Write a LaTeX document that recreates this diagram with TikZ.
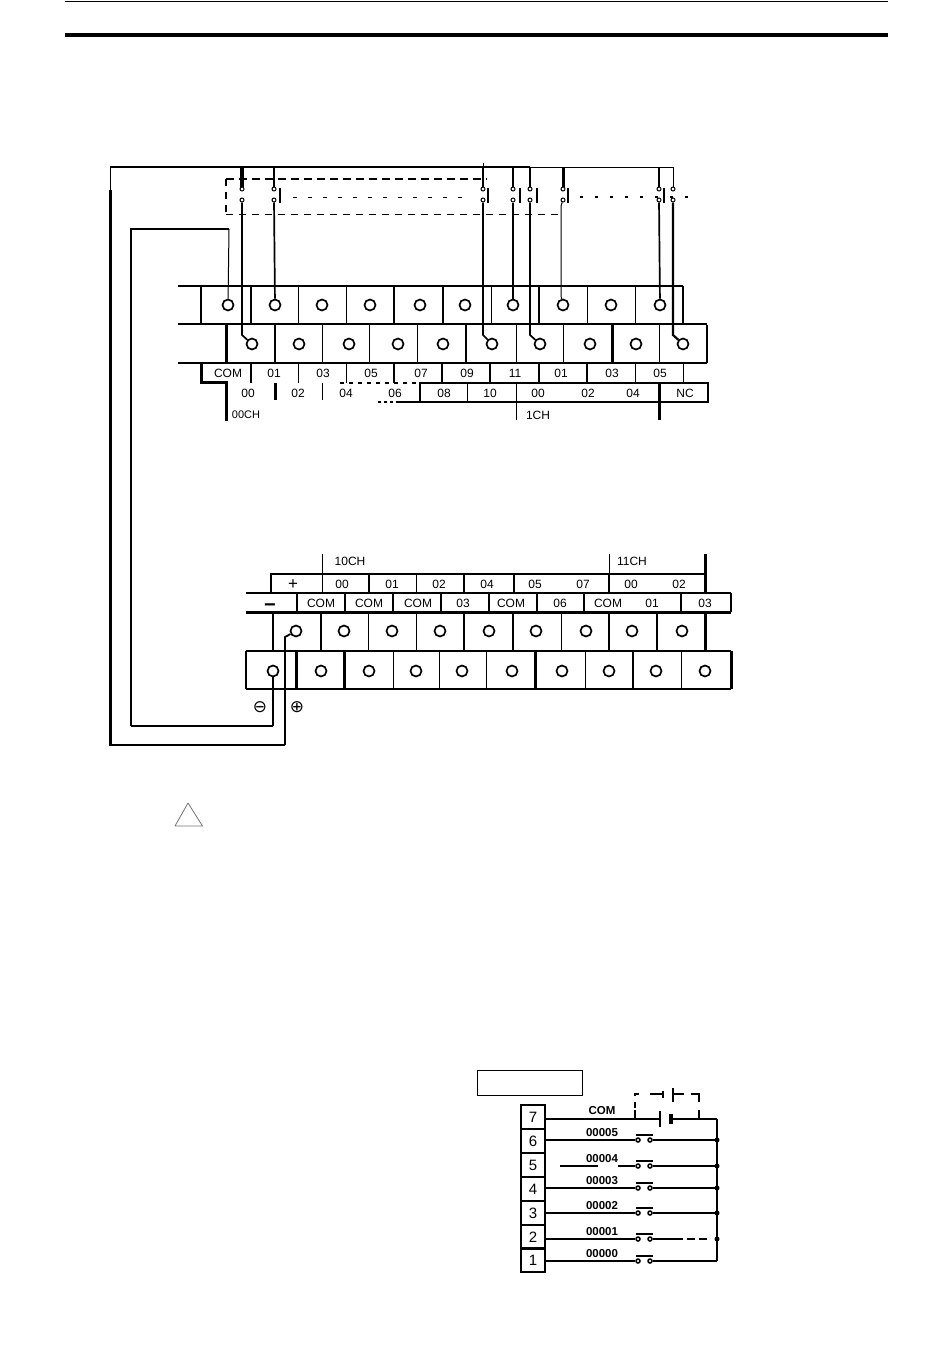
\documentclass[tikz,border=0pt]{standalone}
\usepackage{fontspec}
\setmainfont{Liberation Sans}
\newfontfamily\symfont{DejaVu Sans}
\tikzset{
  term/.style={circle,draw,line width=1.7pt,minimum size=11pt,inner sep=0pt,fill=white},
  cont/.style={circle,draw,line width=1pt,minimum size=4pt,inner sep=0pt,fill=white},
  lab/.style={inner sep=0pt,font=\fontsize{12}{12}\selectfont},
  addr/.style={inner sep=0pt,font=\bfseries\fontsize{11.5}{11.5}\selectfont},
  hair/.style={line width=1pt},
  med/.style={line width=1.7pt},
  fat/.style={line width=3pt},
  dot/.style={circle,fill=black,inner sep=0pt,minimum size=5pt},
}
\begin{document}
\begin{tikzpicture}[x=1pt,y=-1pt,line cap=butt]
\useasboundingbox (0,0) rectangle (950,1370);
% page rules
\draw[hair] (65,2) -- (888,2);
\draw[line width=4pt] (65,35) -- (888,35);

% ---------- upper terminal block ----------
\draw[med] (178,286) -- (683,286);
\draw[med] (178,324) -- (707,324);
\draw[med] (178,363) -- (707,363);
\foreach \x/\w in {201/1.7,251/1.7,298/1,346/1,394/1.7,443/1.7,491/1,539/1.7,587/1,635/1,683/1.5}
  \draw[line width=\w pt] (\x,286) -- (\x,324);
\foreach \x/\w in {226/3,275/1.7,322/1,369/1,417/1,466/1.7,516/1,563/1,612/3,659/1,707/1.7}
  \draw[line width=\w pt] (\x,325) -- (\x,363);
\foreach \i/\x in {1/228,2/275,3/322,4/370,5/420,6/465,7/513,8/563,9/611,10/660}
  \node[term] (u\i) at (\x,305) {};
\foreach \i/\x in {1/252,2/299,3/349,4/398,5/443,6/492,7/540,8/590,9/636,10/683}
  \node[term] (v\i) at (\x,344) {};
% upper label rows
\draw[fat] (201,363) -- (201,382) -- (226,382);
\foreach \x/\w in {251/1.5,298/1,346/1,394/1.5,442/1.5,490/2,539/1.7,587/1.2,635/1,683/1}
  \draw[line width=\w pt] (\x,364) -- (\x,383);
\foreach \x/\t in {228/COM,274/01,323/03,371/05,421/07,467/09,515/11,561/01,612/03,660/05}
  \node[lab] at (\x,373) {\t};
\draw[fat] (226,381) -- (226,421);
\draw[med,dash pattern=on 3pt off 3pt] (378,402) -- (398,402);
\draw[med] (398,402) -- (420,402);
\draw[med,dash pattern=on 4pt off 5pt] (340,383) -- (420,383);
\draw[med] (420,402) -- (420,383) -- (708,383) -- (708,402) -- (420,402);
\foreach \x/\w/\b in {275/3/400,322/1/400,467/1/402,516/1/420}
  \draw[line width=\w pt] (\x,383) -- (\x,\b);
\draw[fat] (659,383) -- (659,420);
\foreach \x/\t in {248/00,298/02,346/04,395/06,444/08,490/10,538/00,588/02,633/04,685/NC}
  \node[lab] at (\x,393) {\t};
\node[lab,font=\fontsize{11}{11}\selectfont] at (246,415) {00CH};
\node[lab] at (538,415) {1CH};

% ---------- switches ----------
\foreach \n/\x in {a/242,b/274,c/483,d/513,e/530,f/563,g/659,h/673}{
  \node[cont] (\n1) at (\x,189) {};
  \node[cont] (\n2) at (\x,200) {};
}
\foreach \x in {280,488,520,537,568,664}
  \draw[med] (\x,188) -- (\x,203);
\coordinate (tl) at (110,167);
\coordinate (tr) at (673,167);
\draw[line width=2.6pt] (tl) -- (530,167);
\draw[hair] (530,167) -- (tr) -- (h1);
\foreach \n/\w in {a/4,b/2,c/2,d/2,e/2,f/3,g/2}
  \draw[line width=\w pt] (\n1 |- tl) -- (\n1);
\draw[hair] (483,163) -- (483,167);
% wires down to the terminals
\draw[med] (a2) -- (242,335) -- (v1);
\draw[med] (b2) -- (u2);
\draw[med] (c2) -- (483,335) -- (v6);
\draw[med] (d2) -- (u7);
\draw[med] (e2) -- (530,335) -- (v7);
\draw[hair] (f2) -- (561,206) -- (561,296) -- (u8);
\draw[med] (g2) -- (u10);
\draw[line width=2.2pt] (h2) -- (673,335) -- (v10);
% switch linkage
\draw[line width=2.2pt,dash pattern=on 8pt off 5pt] (226,179) -- (487,179);
\draw[line width=1.6pt,dash pattern=on 7pt off 6pt] (226,179) -- (226,214);
\draw[hair,dash pattern=on 7pt off 6pt] (226,214) -- (558,214);
\draw[hair,dash pattern=on 4pt off 11pt] (293,197) -- (466,197);
\draw[line width=2pt,dash pattern=on 3pt off 12pt] (580,197) -- (690,197);

% ---------- wiring loops ----------
\coordinate (ol) at (110,745);
\coordinate (ob) at (285,745);
\coordinate (il) at (131,229);
\coordinate (ib) at (131,726);
\coordinate (it) at (229,229);
\draw[hair] (tl) -- (110,190);
\draw[fat] (110,190) -- (ol);
\draw[med] (109,745) -- (ob);
\draw[hair] (u1) -- (it);
\draw[med] (it) -- (il) -- (ib);
\draw[med] (ib) -- (273,726);

% ---------- lower terminal block ----------
\draw[hair] (322,554) -- (322,574);
\draw[hair] (609,554) -- (609,574);
\draw[fat] (705,554) -- (705,592);
\node[lab] at (350,561) {10CH};
\node[lab] at (632,561) {11CH};
\draw[med] (271,593) -- (271,574) -- (705,574);
\draw[med] (246,593) -- (731,593);
\draw[line width=2.4pt] (246,612.5) -- (731,612.5);
\draw[med] (731,593) -- (731,612);
\foreach \x/\w in {322/1,369/2,416/1,464/1.7,514/1.7,609/1.7}
  \draw[line width=\w pt] (\x,574) -- (\x,593);
\foreach \x/\w in {297/1.7,345/2,393/1.2,441/1.7,489/2.4,537/1.2,584/1.7,681/1.2}
  \draw[line width=\w pt] (\x,593) -- (\x,612);
\node[lab,font=\fontsize{17}{17}\selectfont] at (293,585) {+};
\foreach \x/\t in {342/00,392/01,439/02,487/04,535/05,583/07,631/00,679/02}
  \node[lab] at (\x,584) {\t};
\node[lab,font=\bfseries\fontsize{20}{20}\selectfont] at (270,608) {−};
\foreach \x/\t in {321/COM,369/COM,418/COM,463/03,511/COM,560/06,608/COM,652/01,705/03}
  \node[lab] at (\x,603) {\t};
% terminal rows
\foreach \x/\w in {273/1.7,321/1.7,368/1,416/1,464/1.7,513/2.4,561/1,609/1.2,657/1.2,705/3}
  \draw[line width=\w pt] (\x,613) -- (\x,651);
\draw[med] (246,651) -- (731,651);
\draw[med] (246,689) -- (731,689);
\foreach \x/\w in {246/1.2,296/3,344/3,393/1,439/1,486/1,535/3,585/1,633/1.7,681/1,731/3}
  \draw[line width=\w pt] (\x,651) -- (\x,689);
\foreach \i/\x in {1/296,2/344,3/392,4/440,5/489,6/536,7/586,8/632,9/682}
  \node[term] (p\i) at (\x,631) {};
\foreach \i/\x in {1/273,2/321,3/369,4/416,5/462,6/512,7/562,8/609,9/656,10/705}
  \node[term] (q\i) at (\x,671) {};
\draw[med] (273,726) -- (q1);
\draw[line width=1.8pt] (ob) -- (285,637) -- (p1);
\node[lab,font=\symfont\fontsize{17}{17}\selectfont] at (260,707) {⊖};
\node[lab,font=\symfont\fontsize{17}{17}\selectfont] at (297,707) {⊕};

% warning triangle
\draw[line width=0.8pt,draw=black!55,line join=round] (188,803) -- (202.5,826) -- (175,826) -- cycle;

% ---------- lower right diagram ----------
\node[draw,line width=1.6pt,minimum width=105pt,minimum height=25pt,inner sep=0pt] (title) at (530,1083) {};
\foreach \n/\yy in {7/1117,6/1141,5/1165,4/1189,3/1213,2/1237,1/1260}{
  \node[draw,line width=1.8pt,minimum width=24pt,minimum height=24pt,inner sep=0pt,font=\fontsize{15}{15}\selectfont] (n\n) at (533,\yy) {\n};
}
\coordinate (bus1) at (717,1119);
\coordinate (bus2) at (717,1261);
\draw[med] (bus1) -- (bus2);
\draw[med] (n7.east |- bus1) -- (660,1119);
\draw[line width=2.8pt] (660,1111) -- (660,1127);
\draw[line width=3.4pt] (671,1114) -- (671,1124);
\draw[med] (671,1119) -- (bus1);
\node[addr] at (602,1111) {COM};
% dashed bypass with battery
\draw[med] (635,1119) -- (635,1110);
\draw[med,dash pattern=on 6pt off 6pt] (635,1108) -- (635,1094) -- (642,1094);
\draw[med] (650,1094) -- (663,1094);
\draw[line width=2.6pt] (663,1091) -- (663,1098);
\draw[med] (673,1094) -- (684,1094);
\draw[line width=1.8pt] (673,1088) -- (673,1102);
\draw[med] (691,1094) -- (699,1094) -- (699,1102);
\draw[med] (699,1110) -- (699,1119);
% contact lines
\foreach \n/\y/\t in {6/1140/00005,5/1166/00004,4/1188/00003,3/1213/00002,2/1239/00001,1/1261/00000}{
  \node[cont,line width=1.5pt,minimum size=4pt] (l\n) at (638,\y) {};
  \node[cont,line width=1.5pt,minimum size=4pt] (r\n) at (650,\y) {};
  \draw[med] (636,\y-5) -- (653,\y-5);
  \node[addr] at (602,\y-7) {\t};
}
\foreach \n in {6,4,3,2,1}
  \draw[med] (n\n.east |- l\n) -- (l\n);
\draw[med] (560,1166) -- (598,1166);
\draw[med] (618,1166) -- (l5);
\foreach \n in {6,5,4,3}{
  \draw[med] (r\n) -- (r\n -| bus1);
  \node[dot] at (r\n -| bus1) {};
}
\draw[med] (r2) -- (675,1239);
\draw[med,dash pattern=on 8pt off 4pt] (675,1239) -- (708,1239);
\node[dot] at (717,1239) {};
\draw[med] (r1) -- (bus2);
\end{tikzpicture}
\end{document}
